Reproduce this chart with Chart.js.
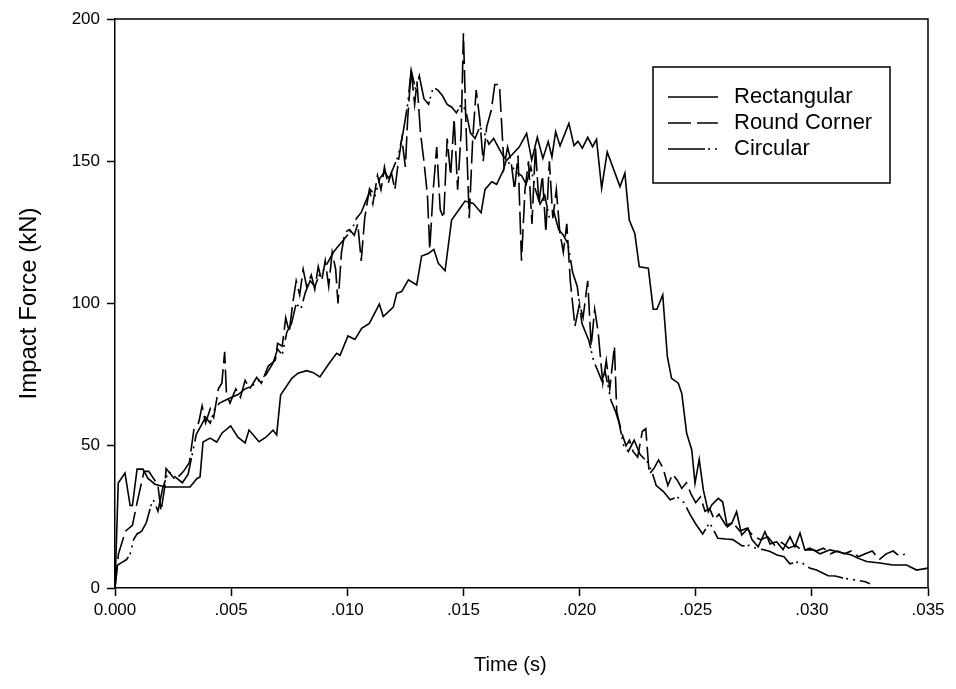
<!DOCTYPE html>
<html>
<head>
<meta charset="utf-8">
<script src="https://cdn.jsdelivr.net/npm/chart.js@4.4.0/dist/chart.umd.min.js"></script>
<style>
  html, body { margin: 0; padding: 0; background: #fff; }
  canvas { display: block; }
</style>
</head>
<body>
<canvas id="impactChart" width="956" height="689"></canvas>
<script>
// Series names and axis ticks
const seriesNames = ['Rectangular', 'Round Corner', 'Circular'];
const xTickValues = [0, 5, 10, 15, 20, 25, 30, 35];   // ms, shown as seconds
const yTickValues = [0, 50, 100, 150, 200];

// Rectangular (time in ms, force in kN)
const rectTime = [0, 0.14, 0.43, 0.65, 0.75, 0.95, 1.2, 1.42, 1.72, 2.15, 2.58, 3.23, 3.53, 3.66, 3.79, 4.09, 4.38, 4.61, 4.98, 5.29, 5.6, 5.77, 6.2, 6.5, 6.8, 6.96, 7.13, 7.61, 7.88, 8.25, 8.54, 8.82, 9.17, 9.54, 9.69, 10.03, 10.33, 10.62, 10.95, 11.38, 11.55, 11.98, 12.13, 12.34, 12.63, 12.99, 13.2, 13.49, 13.73, 13.92, 14.21, 14.49, 14.85, 15.07, 15.42, 15.76, 15.93, 16.22, 16.43, 16.72, 16.83, 17.15, 17.4, 17.72, 17.94, 18.18, 18.42, 18.65, 18.81, 18.97, 19.16, 19.54, 19.76, 19.93, 20.12, 20.35, 20.56, 20.73, 20.95, 21.19, 21.74, 21.95, 22.14, 22.38, 22.57, 22.96, 23.17, 23.33, 23.58, 23.78, 23.96, 24.25, 24.4, 24.61, 24.83, 24.97, 25.15, 25.33, 25.54, 25.69, 25.97, 26.16, 26.36, 26.55, 26.76, 26.98, 27.25, 27.42, 27.69, 27.98, 28.2, 28.48, 28.76, 29.06, 29.27, 29.49, 29.7, 30.05, 30.35, 30.78, 31.34, 31.71, 31.98, 32.36, 32.93, 33.49, 34.08, 34.51, 35];
const rectForce = [0, 36.9, 40.4, 29, 29, 41.8, 41.8, 38.5, 36.5, 35.5, 35.5, 35.5, 38.5, 39, 51.3, 52.7, 51.3, 54.5, 57, 53, 51, 55.5, 51.4, 53, 55.5, 53.8, 67.8, 73.7, 75.5, 76.4, 75.7, 74.2, 78.4, 82.5, 81.8, 88.6, 87.4, 91.3, 93, 99.8, 95.4, 98.7, 103.6, 104.2, 108.3, 106.5, 116.7, 117.6, 119, 114.1, 111.5, 129.3, 133.5, 136, 135.2, 131.9, 140.1, 142.8, 141.9, 146.9, 150, 152.8, 155, 159.8, 150.4, 158.4, 151, 156.9, 151.5, 160.4, 155.4, 163.3, 155.5, 157, 154.6, 158.4, 155.1, 157.7, 140.5, 153.3, 141.1, 145.8, 129.3, 124.5, 112.9, 112.4, 98, 98, 103, 81.3, 73.7, 72, 68.4, 54.4, 48.5, 36.8, 45.2, 34.4, 26.8, 29.2, 31.5, 30.3, 21.5, 22.7, 26.8, 18.6, 21, 17, 14.5, 19.8, 15.5, 16.3, 13.5, 18, 14.5, 19.3, 13.4, 13.4, 12, 13.4, 12.3, 11.6, 10.5, 9.3, 8.8, 8.1, 8.1, 6.3, 7];

// Round Corner
const roundTime = [0, 0.15, 0.45, 0.75, 0.95, 1.25, 1.45, 1.7, 1.85, 1.98, 2.15, 2.2, 2.6, 2.95, 3.2, 3.3, 3.4, 3.6, 3.75, 3.9, 4.1, 4.25, 4.45, 4.6, 4.72, 4.8, 4.95, 5.2, 5.4, 5.6, 5.8, 6.1, 6.3, 6.6, 6.9, 7.0, 7.2, 7.35, 7.5, 7.65, 7.8, 7.95, 8.1, 8.25, 8.45, 8.6, 8.75, 8.9, 9.05, 9.2, 9.35, 9.5, 9.6, 9.75, 9.9, 10.1, 10.3, 10.45, 10.6, 10.75, 10.95, 11.1, 11.3, 11.45, 11.6, 11.75, 11.9, 12.05, 12.2, 12.35, 12.5, 12.6, 12.75, 12.9, 13.0, 13.15, 13.3, 13.45, 13.55, 13.7, 13.85, 14.0, 14.15, 14.3, 14.45, 14.6, 14.75, 14.9, 15.0, 15.1, 15.25, 15.4, 15.55, 15.7, 15.85, 16.0, 16.2, 16.35, 16.55, 16.75, 16.9, 17.05, 17.2, 17.35, 17.5, 17.65, 17.8, 17.95, 18.1, 18.25, 18.4, 18.55, 18.7, 18.85, 19.0, 19.15, 19.3, 19.45, 19.6, 19.8, 20.0, 20.15, 20.35, 20.5, 20.65, 20.8, 21.0, 21.15, 21.3, 21.5, 21.6, 21.8, 22.0, 22.15, 22.3, 22.5, 22.7, 22.85, 23.0, 23.2, 23.4, 23.6, 23.8, 24.0, 24.2, 24.4, 24.6, 24.8, 25.0, 25.2, 25.4, 25.6, 25.8, 26.0, 26.3, 26.6, 26.9, 27.2, 27.5, 27.8, 28.1, 28.4, 28.7, 29.0, 29.3, 29.6, 29.9, 30.2, 30.5, 30.8, 31.1, 31.4, 31.7, 32.0, 32.3, 32.6, 32.9, 33.2, 33.5, 33.8, 34.0];
const roundForce = [0, 12, 20, 22, 30, 41, 41, 38, 36, 27, 36, 42, 38, 41, 44, 50, 56, 58, 64, 58, 63, 60, 70, 72, 83, 68, 65, 70, 67, 73, 70, 74, 72, 78, 80, 86, 85, 95, 90, 100, 108, 103, 112, 106, 110, 105, 113, 108, 115, 106, 118, 112, 100, 118, 125, 126, 124, 128, 115, 130, 140, 135, 145, 140, 148, 142, 146, 140, 150, 158, 148, 165, 182, 170, 178, 160, 150, 138, 119, 140, 155, 133, 130, 158, 145, 165, 140, 160, 195, 165, 130, 158, 175, 165, 150, 162, 168, 177, 177, 148, 155, 150, 140, 152, 115, 140, 150, 128, 155, 135, 145, 125, 150, 130, 140, 125, 118, 128, 108, 92, 100, 95, 108, 85, 98, 90, 72, 80, 70, 85, 62, 55, 50, 52, 48, 46, 55, 56, 40, 42, 45, 42, 36, 40, 38, 35, 37, 33, 30, 32, 27, 28, 24, 26, 22, 23, 20, 21, 18, 17, 18, 15, 16, 14, 15, 13, 14, 13, 14, 12, 13, 12, 13, 11, 12, 13, 10, 12, 13, 11, 12];

// Circular
const circTime = [0, 0.1, 0.3, 0.5, 0.65, 0.8, 0.95, 1.15, 1.35, 1.55, 1.65, 1.85, 2.05, 2.3, 2.6, 2.9, 3.15, 3.3, 3.5, 3.7, 3.9, 4.1, 4.3, 4.5, 4.75, 5.0, 5.3, 5.6, 5.9, 6.2, 6.5, 6.8, 7.0, 7.2, 7.4, 7.6, 7.8, 8.0, 8.2, 8.4, 8.6, 8.8, 9.0, 9.2, 9.4, 9.6, 9.8, 10.0, 10.2, 10.4, 10.6, 10.8, 11.0, 11.2, 11.4, 11.6, 11.8, 12.0, 12.2, 12.4, 12.6, 12.75, 12.95, 13.1, 13.3, 13.5, 13.7, 13.9, 14.1, 14.3, 14.5, 14.7, 14.9, 15.1, 15.3, 15.5, 15.7, 15.9, 16.1, 16.3, 16.5, 16.7, 16.9, 17.1, 17.3, 17.5, 17.7, 17.9, 18.1, 18.3, 18.5, 18.7, 18.9, 19.1, 19.3, 19.5, 19.7, 19.9, 20.1, 20.25, 20.4, 20.6, 20.8, 20.95, 21.1, 21.35, 21.55, 21.7, 21.9, 22.1, 22.35, 22.6, 22.95, 23.15, 23.3, 23.6, 23.9, 24.2, 24.5, 24.75, 25.0, 25.3, 25.6, 25.95, 26.3, 26.6, 27.0, 27.3, 27.6, 27.9, 28.2, 28.5, 28.8, 29.05, 29.5, 29.9, 30.2, 30.7, 31.0, 31.4, 31.9, 32.3, 32.5];
const circForce = [0, 8, 9, 10, 12, 17, 19, 20, 23, 29, 31, 27, 35, 41, 39, 37, 40, 46, 54, 57, 60, 58, 63, 65, 66, 67, 68, 70, 71, 73, 75, 79, 84, 82, 90, 93, 100, 98, 104, 108, 106, 110, 112, 115, 118, 120, 122, 124, 126, 130, 132, 136, 140, 138, 144, 146, 144, 148, 152, 160, 170, 182, 175, 180, 172, 170, 176, 175, 173, 170, 169, 167, 170, 168, 160, 158, 162, 160, 156, 158, 155, 152, 150, 148, 146, 145, 142, 148, 140, 135, 138, 130, 132, 126, 124, 121, 111, 106, 93, 90, 87, 80, 76, 73, 76, 66, 62, 58, 50, 48, 52, 47, 44, 40, 36, 34, 31, 32, 30, 26, 22.5, 19, 23, 17.5, 17.2, 17, 14.8, 15, 14, 13.5, 12.8, 11.6, 11, 8.5, 9.3, 7, 6.3, 4.3, 4.2, 3.4, 2.8, 2.2, 1.5];

const toPoints = (times, forces) => times.map((t, i) => ({ x: t, y: forces[i] }));

const dashes = [[], [23, 6], [37, 3, 2, 5, 2, 5]];
const seriesData = [
    toPoints(rectTime, rectForce),
    toPoints(roundTime, roundForce),
    toPoints(circTime, circForce)
];

Chart.defaults.font.family = '"Liberation Sans", Arial, sans-serif';
Chart.defaults.color = '#000';

// frame on top/right of the plot area plus the boxed legend
const framePlugin = {
    id: 'frame',
    afterDraw(chart) {
        const { ctx, chartArea: a } = chart;
        ctx.save();
        ctx.strokeStyle = '#000';
        ctx.lineWidth = 1.5;
        ctx.beginPath();
        ctx.moveTo(a.left, a.top);
        ctx.lineTo(a.right, a.top);
        ctx.lineTo(a.right, a.bottom);
        ctx.stroke();

        // legend box
        const bx = a.right - 275, by = a.top + 48, bw = 237, bh = 116;
        ctx.lineWidth = 1.5;
        ctx.strokeRect(bx, by, bw, bh);
        ctx.font = '22px "Liberation Sans", Arial, sans-serif';
        ctx.textBaseline = 'middle';
        ctx.fillStyle = '#000';
        seriesNames.forEach((name, i) => {
            const y = by + 30 + i * 26;
            ctx.beginPath();
            ctx.setLineDash(dashes[i]);
            ctx.lineWidth = 1.6;
            ctx.moveTo(bx + 15, y);
            ctx.lineTo(bx + 65, y);
            ctx.stroke();
            ctx.setLineDash([]);
            ctx.fillText(name, bx + 81, y);
        });
        ctx.restore();
    }
};

const ctx = document.getElementById('impactChart').getContext('2d');
new Chart(ctx, {
    type: 'line',
    data: {
        datasets: seriesNames.map((name, i) => ({
            label: name,
            data: seriesData[i],
            borderColor: '#000',
            borderWidth: 1.6,
            borderDash: dashes[i],
            pointRadius: 0,
            tension: 0,
            fill: false
        }))
    },
    options: {
        responsive: false,
        animation: false,
        layout: { padding: { top: 19, right: 28, left: 0, bottom: 0 } },
        plugins: {
            legend: { display: false },
            tooltip: { enabled: false }
        },
        scales: {
            x: {
                type: 'linear',
                min: 0,
                max: 35,
                afterFit: scale => { scale.height = 101; },
                afterBuildTicks: scale => { scale.ticks = xTickValues.map(v => ({ value: v })); },
                grid: { drawOnChartArea: false, tickLength: 8, color: '#000', tickWidth: 1.5 },
                border: { color: '#000', width: 1.5 },
                ticks: {
                    padding: 4,
                    font: { size: 17 },
                    maxRotation: 0,
                    callback: v => v === 0 ? '0.000' : '.' + String(v).padStart(3, '0')
                },
                // trailing spaces nudge the title slightly left, as in the original
                title: { display: true, text: 'Time (s)    ', font: { size: 20 }, padding: { top: 0, bottom: 12 } }
            },
            y: {
                min: 0,
                max: 200,
                afterFit: scale => { scale.width = 115; },
                afterBuildTicks: scale => { scale.ticks = yTickValues.map(v => ({ value: v })); },
                grid: { drawOnChartArea: false, tickLength: 8, color: '#000', tickWidth: 1.5 },
                border: { color: '#000', width: 1.5 },
                ticks: { padding: 7, font: { size: 17 } },
                title: { display: true, text: 'Impact Force (kN)', font: { size: 24 }, padding: { top: 15, bottom: 0 } }
            }
        }
    },
    plugins: [framePlugin]
});
</script>
</body>
</html>
